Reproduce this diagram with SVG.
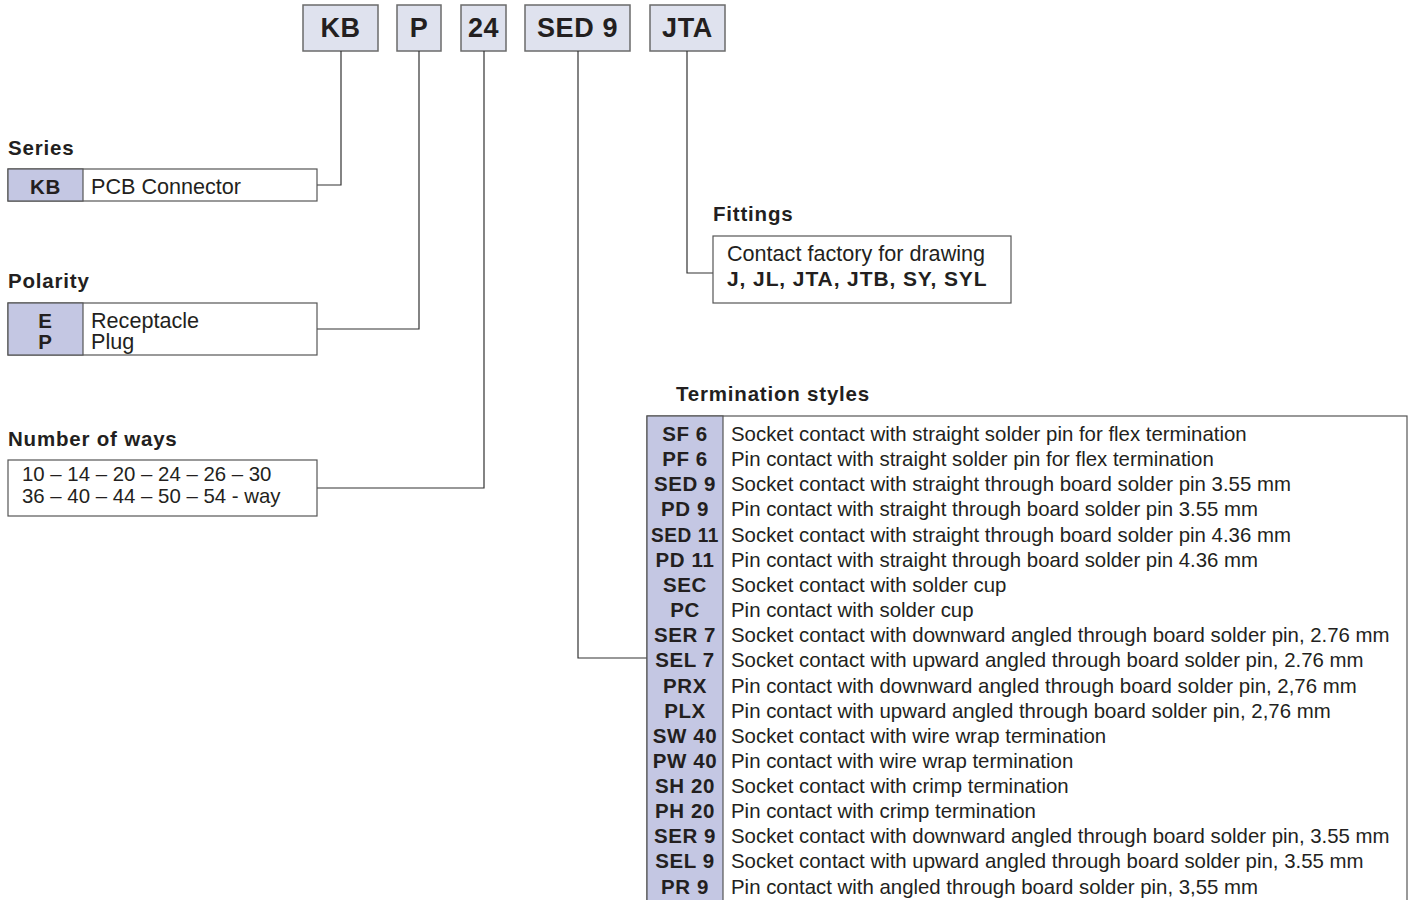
<svg xmlns="http://www.w3.org/2000/svg" width="1413" height="900" viewBox="0 0 1413 900">
<style>
text{font-family:"Liberation Sans",Arial,sans-serif;fill:#231f20}
.h{font-weight:bold;font-size:20.5px;letter-spacing:0.8px}
.top{font-weight:bold;font-size:27px;text-anchor:middle;letter-spacing:0.6px}
.t{font-size:20.4px}
.t2{font-size:21.6px}
.b{font-weight:bold;font-size:21px;letter-spacing:0.9px}
.c{font-weight:bold;font-size:20.5px;text-anchor:middle;letter-spacing:0.6px}
.topbox{fill:#dfe2ee;stroke:#6b6b6b;stroke-width:1.5}
.box{fill:#fff;stroke:#555;stroke-width:1.2}
.code{fill:#c4c7e3;stroke:#555;stroke-width:1.2}
.con{fill:none;stroke:#333;stroke-width:1.2}
</style>
<rect width="1413" height="900" fill="#fff"/>
<g id="top-KB"><rect class="topbox" x="303" y="5" width="75" height="46"/><text class="top" x="340.5" y="37">KB</text></g>
<g id="top-P"><rect class="topbox" x="397" y="5" width="44" height="46"/><text class="top" x="419" y="37">P</text></g>
<g id="top-24"><rect class="topbox" x="461" y="5" width="45" height="46"/><text class="top" x="483.5" y="37">24</text></g>
<g id="top-SED9"><rect class="topbox" x="525" y="5" width="105" height="46"/><text class="top" x="577.5" y="37">SED 9</text></g>
<g id="top-JTA"><rect class="topbox" x="650" y="5" width="75" height="46"/><text class="top" x="687.5" y="37">JTA</text></g>
<g id="connectors">
<polyline class="con" points="341,51 341,185 317,185"/>
<polyline class="con" points="419,51 419,329 317,329"/>
<polyline class="con" points="484,51 484,488 317,488"/>
<polyline class="con" points="578,51 578,658 647,658"/>
<polyline class="con" points="687,51 687,273 713,273"/>
</g>
<g id="series">
<text class="h" x="8" y="155">Series</text>
<rect class="box" x="8" y="169" width="309" height="32"/>
<rect class="code" x="8" y="169" width="75" height="32"/>
<text class="c" x="45.5" y="194">KB</text>
<text class="t2" x="91" y="194">PCB Connector</text>
</g>
<g id="polarity">
<text class="h" x="8" y="288">Polarity</text>
<rect class="box" x="8" y="303" width="309" height="52"/>
<rect class="code" x="8" y="303" width="75" height="52"/>
<text class="c" x="45.5" y="328">E</text>
<text class="c" x="45.5" y="349">P</text>
<text class="t2" x="91" y="328">Receptacle</text>
<text class="t2" x="91" y="349">Plug</text>
</g>
<g id="ways">
<text class="h" x="8" y="446">Number of ways</text>
<rect class="box" x="8" y="460" width="309" height="56"/>
<text class="t" x="22" y="481">10 – 14 – 20 – 24 – 26 – 30</text>
<text class="t" x="22" y="503">36 – 40 – 44 – 50 – 54 - way</text>
</g>
<g id="fittings">
<text class="h" x="713" y="221">Fittings</text>
<rect class="box" x="713" y="236" width="298" height="67"/>
<text class="t2" x="727" y="261">Contact factory for drawing</text>
<text class="b" x="727" y="286">J, JL, JTA, JTB, SY, SYL</text>
</g>
<g id="termination">
<text class="h" x="676" y="401">Termination styles</text>
<rect class="box" x="647" y="416" width="760" height="500"/>
<rect class="code" x="647" y="416" width="76" height="500"/>
<g class="rows">
<text class="c" x="685" y="441">SF 6</text><text class="t" x="731" y="441">Socket contact with straight solder pin for flex termination</text>
<text class="c" x="685" y="466">PF 6</text><text class="t" x="731" y="466">Pin contact with straight solder pin for flex termination</text>
<text class="c" x="685" y="491">SED 9</text><text class="t" x="731" y="491">Socket contact with straight through board solder pin 3.55 mm</text>
<text class="c" x="685" y="516">PD 9</text><text class="t" x="731" y="516">Pin contact with straight through board solder pin 3.55 mm</text>
<text class="c" x="685" y="542" textLength="68" lengthAdjust="spacingAndGlyphs">SED 11</text><text class="t" x="731" y="542">Socket contact with straight through board solder pin 4.36 mm</text>
<text class="c" x="685" y="567">PD 11</text><text class="t" x="731" y="567">Pin contact with straight through board solder pin 4.36 mm</text>
<text class="c" x="685" y="592">SEC</text><text class="t" x="731" y="592">Socket contact with solder cup</text>
<text class="c" x="685" y="617">PC</text><text class="t" x="731" y="617">Pin contact with solder cup</text>
<text class="c" x="685" y="642">SER 7</text><text class="t" x="731" y="642">Socket contact with downward angled through board solder pin, 2.76 mm</text>
<text class="c" x="685" y="667">SEL 7</text><text class="t" x="731" y="667">Socket contact with upward angled through board solder pin, 2.76 mm</text>
<text class="c" x="685" y="693">PRX</text><text class="t" x="731" y="693">Pin contact with downward angled through board solder pin, 2,76 mm</text>
<text class="c" x="685" y="718">PLX</text><text class="t" x="731" y="718">Pin contact with upward angled through board solder pin, 2,76 mm</text>
<text class="c" x="685" y="743">SW 40</text><text class="t" x="731" y="743">Socket contact with wire wrap termination</text>
<text class="c" x="685" y="768">PW 40</text><text class="t" x="731" y="768">Pin contact with wire wrap termination</text>
<text class="c" x="685" y="793">SH 20</text><text class="t" x="731" y="793">Socket contact with crimp termination</text>
<text class="c" x="685" y="818">PH 20</text><text class="t" x="731" y="818">Pin contact with crimp termination</text>
<text class="c" x="685" y="843">SER 9</text><text class="t" x="731" y="843">Socket contact with downward angled through board solder pin, 3.55 mm</text>
<text class="c" x="685" y="868">SEL 9</text><text class="t" x="731" y="868">Socket contact with upward angled through board solder pin, 3.55 mm</text>
<text class="c" x="685" y="894">PR 9</text><text class="t" x="731" y="894">Pin contact with angled through board solder pin, 3,55 mm</text>
</g>
</g>
</svg>
